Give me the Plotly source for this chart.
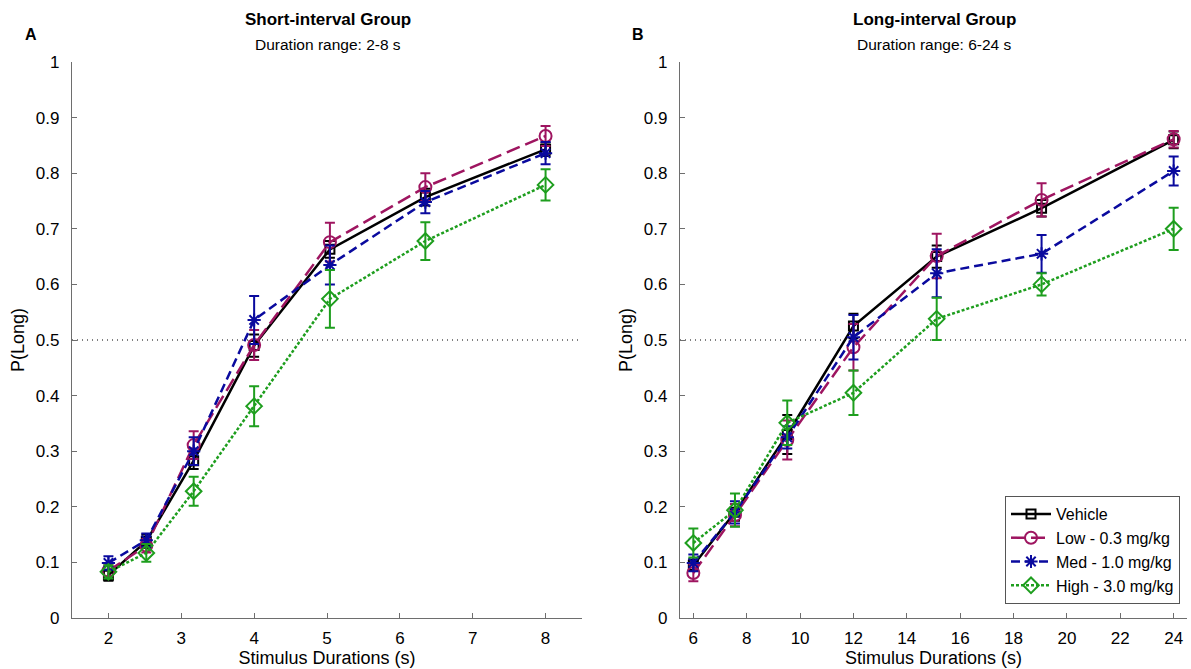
import plotly.graph_objects as go

W, H = 1191, 669

# ---------------- data ----------------
series_names = ["Vehicle", "Low - 0.3 mg/kg", "Med - 1.0 mg/kg", "High - 3.0 mg/kg"]

short_x = [2, 2.52, 3.17, 4, 5.04, 6.35, 8]
short_vehicle = [0.077, 0.138, 0.283, 0.490, 0.663, 0.757, 0.843]
short_low = [0.085, 0.130, 0.311, 0.491, 0.676, 0.775, 0.867]
short_med = [0.099, 0.140, 0.300, 0.536, 0.635, 0.748, 0.836]
short_high = [0.083, 0.117, 0.228, 0.381, 0.574, 0.678, 0.779]
short_vehicle_err = [0.010, 0.012, 0.015, 0.020, 0.015, 0.015, 0.012]
short_low_err = [0.010, 0.012, 0.025, 0.027, 0.035, 0.025, 0.018]
short_med_err = [0.012, 0.012, 0.025, 0.043, 0.035, 0.020, 0.020]
short_high_err = [0.012, 0.016, 0.026, 0.036, 0.052, 0.034, 0.028]

long_x = [6, 7.56, 9.52, 12, 15.12, 19.05, 24]
long_vehicle = [0.095, 0.190, 0.330, 0.525, 0.650, 0.737, 0.860]
long_low = [0.081, 0.185, 0.320, 0.487, 0.651, 0.752, 0.861]
long_med = [0.099, 0.190, 0.325, 0.505, 0.620, 0.655, 0.804]
long_high = [0.135, 0.194, 0.351, 0.405, 0.538, 0.600, 0.700]
long_vehicle_err = [0.010, 0.015, 0.035, 0.022, 0.020, 0.015, 0.015]
long_low_err = [0.015, 0.020, 0.035, 0.042, 0.040, 0.030, 0.015]
long_med_err = [0.015, 0.020, 0.020, 0.040, 0.043, 0.034, 0.026]
long_high_err = [0.026, 0.030, 0.040, 0.040, 0.038, 0.020, 0.038]

short_ticks = [2, 3, 4, 5, 6, 7, 8]
long_ticks = [6, 8, 10, 12, 14, 16, 18, 20, 22, 24]
y_ticks = [0, 0.1, 0.2, 0.3, 0.4, 0.5, 0.6, 0.7, 0.8, 0.9, 1]
y_tick_labels = ["0", "0.1", "0.2", "0.3", "0.4", "0.5", "0.6", "0.7", "0.8", "0.9", "1"]

# ---------------- styles ----------------
colors = ["#000000", "#9E1560", "#0A0A9E", "#1E9E1E"]
dashes = ["solid", "14px,6px", "9px,5px", "3px,2px"]
symbols = ["square-open", "circle-open", "asterisk-open", "diamond-open"]
msizes = [9, 12, 11, 12]

FONT = "Liberation Sans, Arial, sans-serif"

fig = go.Figure()

short_vals = [short_vehicle, short_low, short_med, short_high]
short_errs = [short_vehicle_err, short_low_err, short_med_err, short_high_err]
long_vals = [long_vehicle, long_low, long_med, long_high]
long_errs = [long_vehicle_err, long_low_err, long_med_err, long_high_err]

# dotted 0.5 reference lines
for xa, ya, xr in [("x", "y", [1.5, 8.5]), ("x2", "y2", [5.5, 24.5])]:
    fig.add_trace(go.Scatter(x=xr, y=[0.5, 0.5], mode="lines", xaxis=xa, yaxis=ya,
                             line=dict(color="black", width=1.2, dash="1px,4px"),
                             showlegend=False, hoverinfo="skip"))

def add_series(xs, vals, errs, xa, ya, show):
    for i in range(4):
        fig.add_trace(go.Scatter(
            x=xs, y=vals[i], mode="lines+markers", name=series_names[i],
            xaxis=xa, yaxis=ya, showlegend=show,
            line=dict(color=colors[i], width=2.5, dash=dashes[i]),
            marker=dict(symbol=symbols[i], size=msizes[i], color=colors[i],
                        line=dict(color=colors[i], width=2)),
            error_y=dict(type="data", array=errs[i], visible=True,
                         color=colors[i], thickness=2, width=5),
        ))

add_series(short_x, short_vals, short_errs, "x", "y", False)
add_series(long_x, long_vals, long_errs, "x2", "y2", True)

axis_common = dict(showline=True, linecolor="#6E6E6E", linewidth=1.2, ticks="inside",
                   ticklen=5, tickcolor="#6E6E6E", tickwidth=1, showgrid=False,
                   zeroline=False, mirror=False, automargin=False,
                   tickfont=dict(family=FONT, size=17, color="black"))

y0 = 1 - 618 / H
y1 = 1 - 62 / H

xtitle = dict(text="Stimulus Durations (s)", font=dict(size=18), standoff=4)
ytitle = dict(text="P(Long)", font=dict(size=18), standoff=6)

fig.update_layout(
    width=W, height=H,
    margin=dict(l=0, r=0, t=0, b=0),
    paper_bgcolor="white", plot_bgcolor="white",
    font=dict(family=FONT, size=16, color="black"),
    xaxis=dict(domain=[72 / W, 582 / W], range=[1.5, 8.5], tickvals=short_ticks,
               title=xtitle, anchor="y", ticklabelstandoff=4, **axis_common),
    yaxis=dict(domain=[y0, y1], range=[0, 1], tickvals=y_ticks, ticktext=y_tick_labels,
               title=ytitle, anchor="x", ticklabelstandoff=8, **axis_common),
    xaxis2=dict(domain=[680 / W, 1187 / W], range=[5.5, 24.5], tickvals=long_ticks,
                title=xtitle, anchor="y2", ticklabelstandoff=4, **axis_common),
    yaxis2=dict(domain=[y0, y1], range=[0, 1], tickvals=y_ticks, ticktext=y_tick_labels,
                title=ytitle, anchor="x2", ticklabelstandoff=8, **axis_common),
    legend=dict(x=1180 / W, xanchor="right", y=1 - 604 / H, yanchor="bottom",
                bgcolor="white", bordercolor="#555555", borderwidth=1,
                font=dict(family=FONT, size=16), tracegroupgap=0, itemwidth=40),
    showlegend=True,
)

def ann(text, x, y, size, bold=False, xanchor="center"):
    fig.add_annotation(text=("<b>%s</b>" % text) if bold else text,
                       x=x / W, y=1 - y / H, xref="paper", yref="paper",
                       showarrow=False, xanchor=xanchor, yanchor="middle",
                       font=dict(family=FONT, size=size, color="black"))

ann("Short-interval Group", 328, 19, 17, bold=True)
ann("Duration range: 2-8 s", 328, 45, 15.5)
ann("A", 23, 35, 16, bold=True, xanchor="left")
ann("Long-interval Group", 934, 19, 17, bold=True)
ann("Duration range: 6-24 s", 934, 45, 15.5)
ann("B", 630, 35, 16, bold=True, xanchor="left")

fig.write_html("out.html")
